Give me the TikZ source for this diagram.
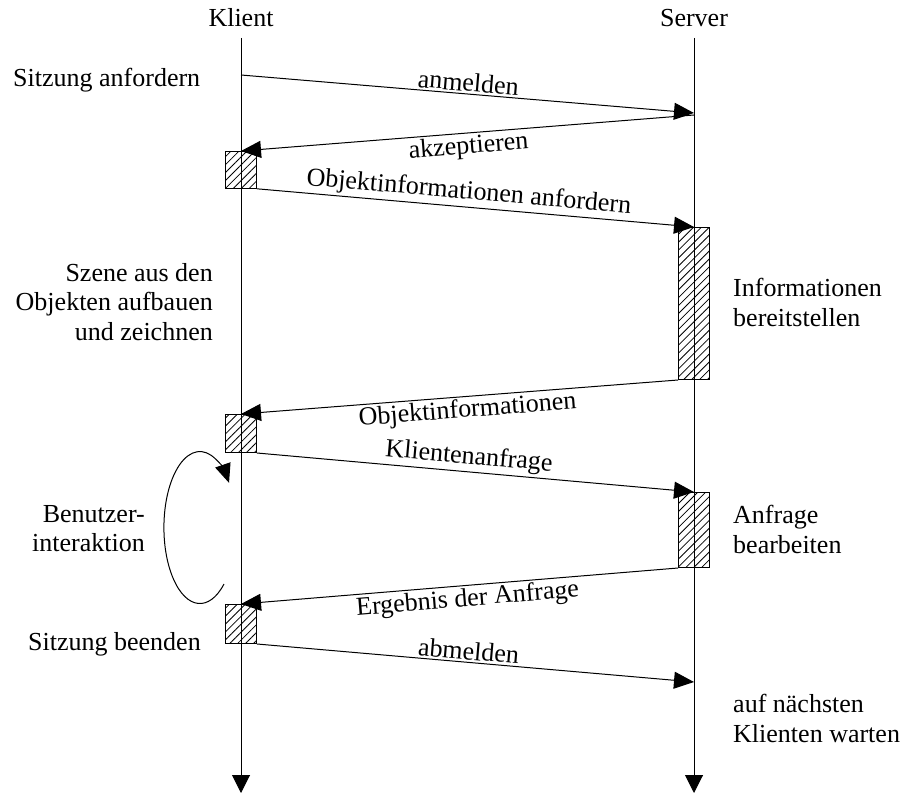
\documentclass[tikz,border=0pt]{standalone}
\usepackage{fontspec}
\setmainfont{Liberation Serif}
\usetikzlibrary{arrows.meta,patterns.meta}
\begin{document}
\begin{tikzpicture}[x=1pt,y=-1pt,
  every node/.style={font=\fontsize{26pt}{29.5pt}\selectfont},
  lifeline/.style={line width=1pt,-{Triangle[length=18pt,width=18pt]}},
  msg/.style={line width=1pt,-{Triangle[length=20pt,width=17pt]}},
  loopline/.style={line width=1pt,-{Triangle[length=19pt,width=16pt]}},
  actbox/.style={draw,line width=1pt,minimum width=31pt,inner sep=0pt,
    pattern={Lines[angle=45,distance=5.6pt,line width=0.8pt]}},
  msglabel/.style={sloped,inner sep=2pt},
  note/.style={inner sep=0pt}]
\useasboundingbox (0,0) rectangle (904,794);

% participants and their lifelines
\node[note,anchor=base] (klient) at (241,27) {Klient};
\node[note,anchor=base] (server) at (694,27) {Server};
\coordinate (kTop) at (241,38);
\coordinate (kEnd) at (241,793);
\coordinate (sTop) at (694,38);
\coordinate (sEnd) at (694,793);

% activation boxes
\node[actbox,minimum height=37pt,anchor=north] (kb1) at (241,151) {};
\node[actbox,minimum height=38pt,anchor=north] (kb2) at (241,414) {};
\node[actbox,minimum height=39pt,anchor=north] (kb3) at (241,604) {};
\node[actbox,minimum height=152pt,anchor=north] (sb1) at (694,227) {};
\node[actbox,minimum height=75pt,anchor=north] (sb2) at (694,492) {};

\draw[lifeline] (kTop) -- (kEnd);
\draw[lifeline] (sTop) -- (sEnd);

% messages
\coordinate (m1s) at (241,75);
\coordinate (m1e) at (694,113);
\coordinate (m2s) at (694,115);
\coordinate (m7e) at (694,682);
\draw[msg] (m1s) -- node[msglabel,above] {anmelden} (m1e);
\draw[msg] (m2s) -- node[msglabel,below] {akzeptieren} (kb1.north);
\draw[msg] (kb1.south east) -- node[msglabel,above,pos=0.482] {Objektinformationen anfordern} (sb1.north);
\draw[msg] (sb1.south west) -- node[msglabel,below,pos=0.484] {Objektinformationen} (kb2.north);
\draw[msg] (kb2.south east) -- node[msglabel,above,pos=0.482] {Klientenanfrage} (sb2.north);
\draw[msg] (sb2.south west) -- node[msglabel,below,pos=0.484] {Ergebnis der Anfrage} (kb3.north);
\draw[msg] (kb3.south east) -- node[msglabel,above,pos=0.482] {abmelden} (m7e);

% user interaction loop
\coordinate (loopStart) at (224,584);
\draw[loopline] (loopStart) arc[start angle=48,end angle=324,x radius=36,y radius=76];

% side notes
\node[note,anchor=base west] (n1) at (13,87) {Sitzung anfordern};
\node[note,align=right,anchor=north east] (n2) at (213,263) {Szene aus den\\Objekten aufbauen\\und zeichnen};
\node[note,align=left,anchor=north west] (n3) at (733,278) {Informationen\\bereitstellen};
\node[note,align=right,anchor=north east] (n4) at (145,505) {Benutzer-\\interaktion};
\node[note,align=left,anchor=north west] (n5) at (733,505) {Anfrage\\bearbeiten};
\node[note,anchor=base west] (n6) at (28,650) {Sitzung beenden};
\node[note,align=left,anchor=north west] (n7) at (733,694) {auf nächsten\\Klienten warten};
\end{tikzpicture}
\end{document}
